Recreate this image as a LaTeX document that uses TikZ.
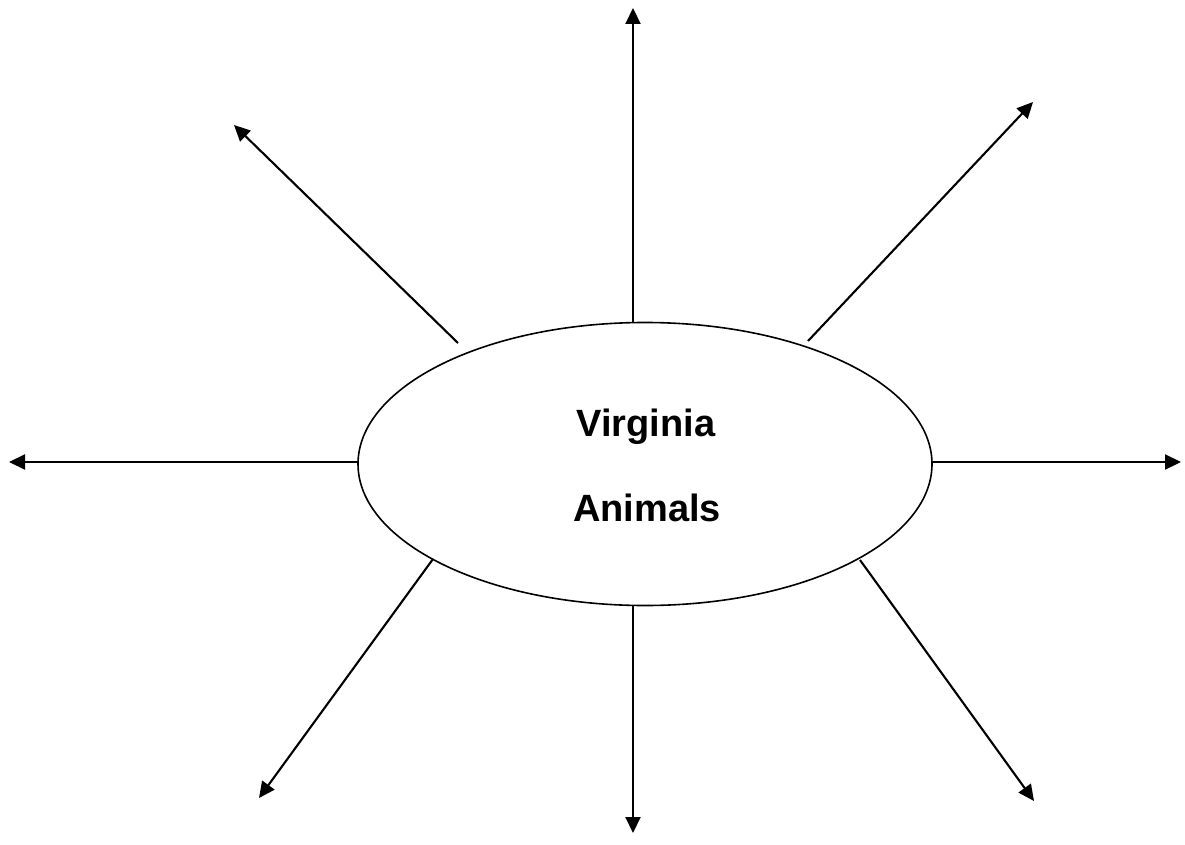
\documentclass[tikz,border=0pt]{standalone}
\usepackage{fontspec}
\setmainfont{Liberation Sans}
\usetikzlibrary{arrows.meta,shapes.geometric}
\tikzset{
  ray/.style={line width=2.1pt, -{Triangle[length=16pt,width=15pt]}},
  hub/.style={draw, line width=1.6pt, ellipse, minimum width=574pt, minimum height=283pt, inner sep=0pt},
  word/.style={anchor=base, inner sep=0pt, font=\fontsize{38}{44}\selectfont\bfseries}
}
\begin{document}
\begin{tikzpicture}[x=1pt,y=-1pt]
  \useasboundingbox (0,0) rectangle (1185,845);
  \node[hub] (e) at (645,464) {};
  \node[word] (t1) at (646,436) {Virginia};
  \node[word] (t2) at (647,521) {Animals};
  % ray start points on the ellipse
  \coordinate (sN)  at (633,323);
  \coordinate (sS)  at (633,605);
  \coordinate (sW)  at (358,462);
  \coordinate (sE)  at (932,462);
  \coordinate (sNW) at (458,343);
  \coordinate (sNE) at (808,341);
  \coordinate (sSW) at (433,559);
  \coordinate (sSE) at (860,560);
  % ray tips
  \coordinate (tN)  at (633,8);
  \coordinate (tS)  at (633,833);
  \coordinate (tW)  at (9,462);
  \coordinate (tE)  at (1181,462);
  \coordinate (tNW) at (234,125);
  \coordinate (tNE) at (1033,102);
  \coordinate (tSW) at (259,798);
  \coordinate (tSE) at (1034,801);
  \foreach \d in {N,S,W,E,NW,NE,SW,SE}
    \draw[ray] (s\d) -- (t\d);
\end{tikzpicture}
\end{document}
